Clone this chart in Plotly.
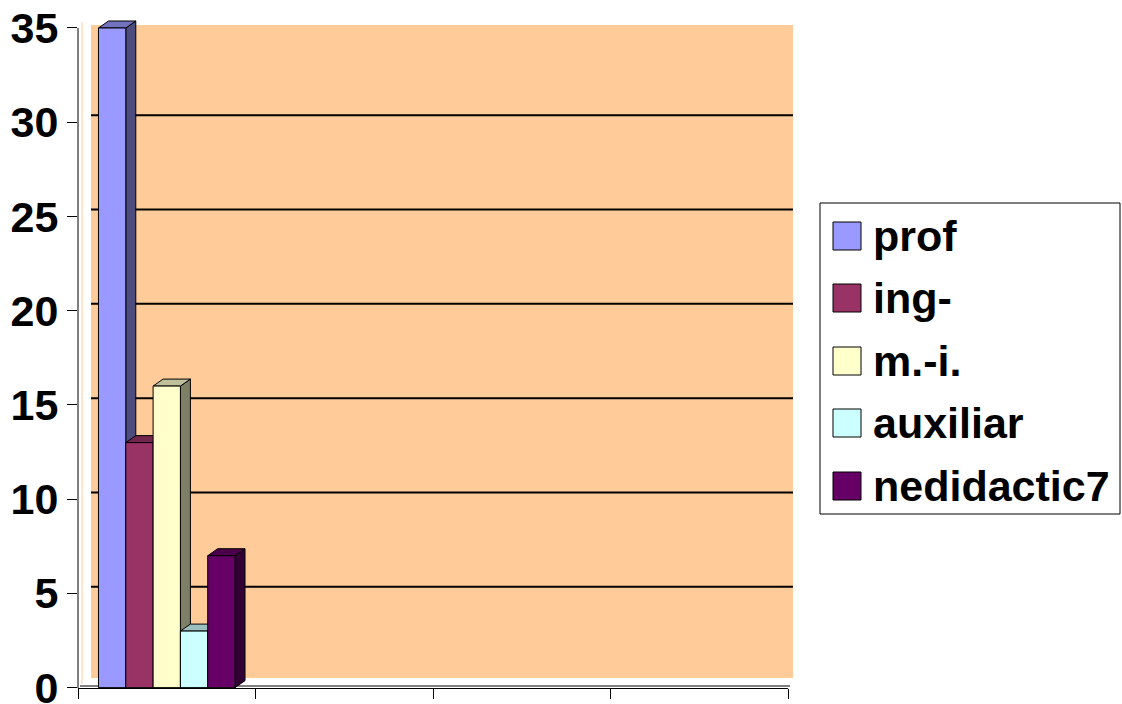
import plotly.graph_objects as go

# ---- data ----
categories = ["1", "2", "3", "4"]          # only the first category carries values
series_names = ["prof", "ing-", "m.-i.", "auxiliar", "nedidactic7"]
series_values = [35, 13, 16, 3, 7]
y_ticks = [0, 5, 10, 15, 20, 25, 30, 35]

# ---- styles ----
front_colors = ["#9999FF", "#993366", "#FFFFCC", "#CCFFFF", "#660066"]
FONT = "Liberation Sans, Arial, sans-serif"
W, H = 1122, 704
L, R, T, B = 78, 788, 18, 688          # plot area in pixels
PX_PER_UNIT = (688 - 28) / 35.0
YMIN = -0.02
YMAX = 35 + (28 - T) / PX_PER_UNIT
DEPTH_PX = (10, 7)


def shade(hex_color, f):
    h = hex_color.lstrip("#")
    r, g, b = (int(h[i:i + 2], 16) for i in (0, 2, 4))
    return "#%02X%02X%02X" % (int(r * f), int(g * f), int(b * f))


def px(x):
    return (x - L) / (R - L)


def py(y):
    return (B - y) / (B - T)


n_cat = len(categories)
dx = DEPTH_PX[0] * n_cat / (R - L)
dy = DEPTH_PX[1] / PX_PER_UNIT
bar_w = 1 / 6.5
start = 0.75 / 6.5

fig = go.Figure()

for i, (name, v, c) in enumerate(zip(series_names, series_values, front_colors)):
    x0 = 0 + start + i * bar_w
    x1 = x0 + bar_w
    line = dict(color="black", width=1)
    # side face
    fig.add_trace(go.Scatter(
        x=[x1, x1 + dx, x1 + dx, x1, x1], y=[0, dy, v + dy, v, 0],
        fill="toself", fillcolor=shade(c, 0.5), mode="lines", line=line,
        showlegend=False, hoverinfo="skip"))
    # top face
    fig.add_trace(go.Scatter(
        x=[x0, x0 + dx, x1 + dx, x1, x0], y=[v, v + dy, v + dy, v, v],
        fill="toself", fillcolor=shade(c, 0.75), mode="lines", line=line,
        showlegend=False, hoverinfo="skip"))
    # front face
    fig.add_trace(go.Scatter(
        x=[x0, x0, x1, x1, x0], y=[0, v, v, 0, 0],
        fill="toself", fillcolor=c, mode="lines", line=line,
        name=name, showlegend=False, hoverinfo="name+y"))

shapes = []
# back wall
shapes.append(dict(type="rect", xref="paper", yref="paper",
                   x0=px(91), x1=px(793), y0=py(678), y1=py(25),
                   fillcolor="#FFCC99", line=dict(width=0), layer="below"))
# left wall edge
shapes.append(dict(type="line", xref="paper", yref="paper",
                   x0=px(82), x1=px(82), y0=py(684), y1=py(22),
                   line=dict(color="#FFCC99", width=1), layer="below"))
# gridlines on the wall
for t in y_ticks[1:-1]:
    yy = B - t * PX_PER_UNIT - DEPTH_PX[1]
    shapes.append(dict(type="line", xref="paper", yref="paper",
                       x0=px(91), x1=px(793), y0=py(yy), y1=py(yy),
                       line=dict(color="black", width=2), layer="below"))
# floor edge
shapes.append(dict(type="line", xref="paper", yref="paper",
                   x0=px(80), x1=px(790), y0=py(686), y1=py(686),
                   line=dict(color="#808080", width=2), layer="below"))
# y axis line
shapes.append(dict(type="line", xref="paper", yref="paper",
                   x0=0, x1=0, y0=py(688), y1=py(28),
                   line=dict(color="black", width=1)))

# custom legend
LEG_Y = [236, 298, 361, 423, 486]
shapes.append(dict(type="rect", xref="paper", yref="paper",
                   x0=px(820), x1=px(1120), y0=py(514), y1=py(203),
                   line=dict(color="black", width=1), fillcolor="white"))
annotations = []
for name, c, yc in zip(series_names, front_colors, LEG_Y):
    shapes.append(dict(type="rect", xref="paper", yref="paper",
                       x0=px(833), x1=px(861), y0=py(yc + 14), y1=py(yc - 14),
                       line=dict(color="black", width=1), fillcolor=c))
    annotations.append(dict(xref="paper", yref="paper", x=px(871), y=py(yc),
                            xanchor="left", yanchor="middle", showarrow=False,
                            text=name, font=dict(family=FONT, size=43,
                                                 color="black", weight="bold")))

fig.update_layout(
    width=W, height=H,
    margin=dict(l=L, r=W - R, t=T, b=H - B, pad=0, autoexpand=False),
    paper_bgcolor="white", plot_bgcolor="rgba(0,0,0,0)",
    showlegend=False,
    shapes=shapes, annotations=annotations,
    xaxis=dict(range=[0, n_cat], tickvals=list(range(n_cat + 1)),
               showticklabels=False, ticks="outside", ticklen=10,
               tickcolor="black", showgrid=False, zeroline=False,
               automargin=False,
               showline=True, linecolor="black", linewidth=1, fixedrange=True),
    yaxis=dict(range=[YMIN, YMAX], tickvals=y_ticks,
               ticktext=[str(t) for t in y_ticks],
               ticks="outside", ticklen=10, tickcolor="black",
               automargin=False, ticklabeloverflow="allow",
               tickfont=dict(family=FONT, size=43, color="black", weight="bold"),
               showgrid=False, zeroline=False, showline=False, fixedrange=True),
)

fig.write_html("out.html",
               config={"displayModeBar": False},
               post_script="document.body.style.margin='0';"
                           "document.body.style.overflow='hidden';")
